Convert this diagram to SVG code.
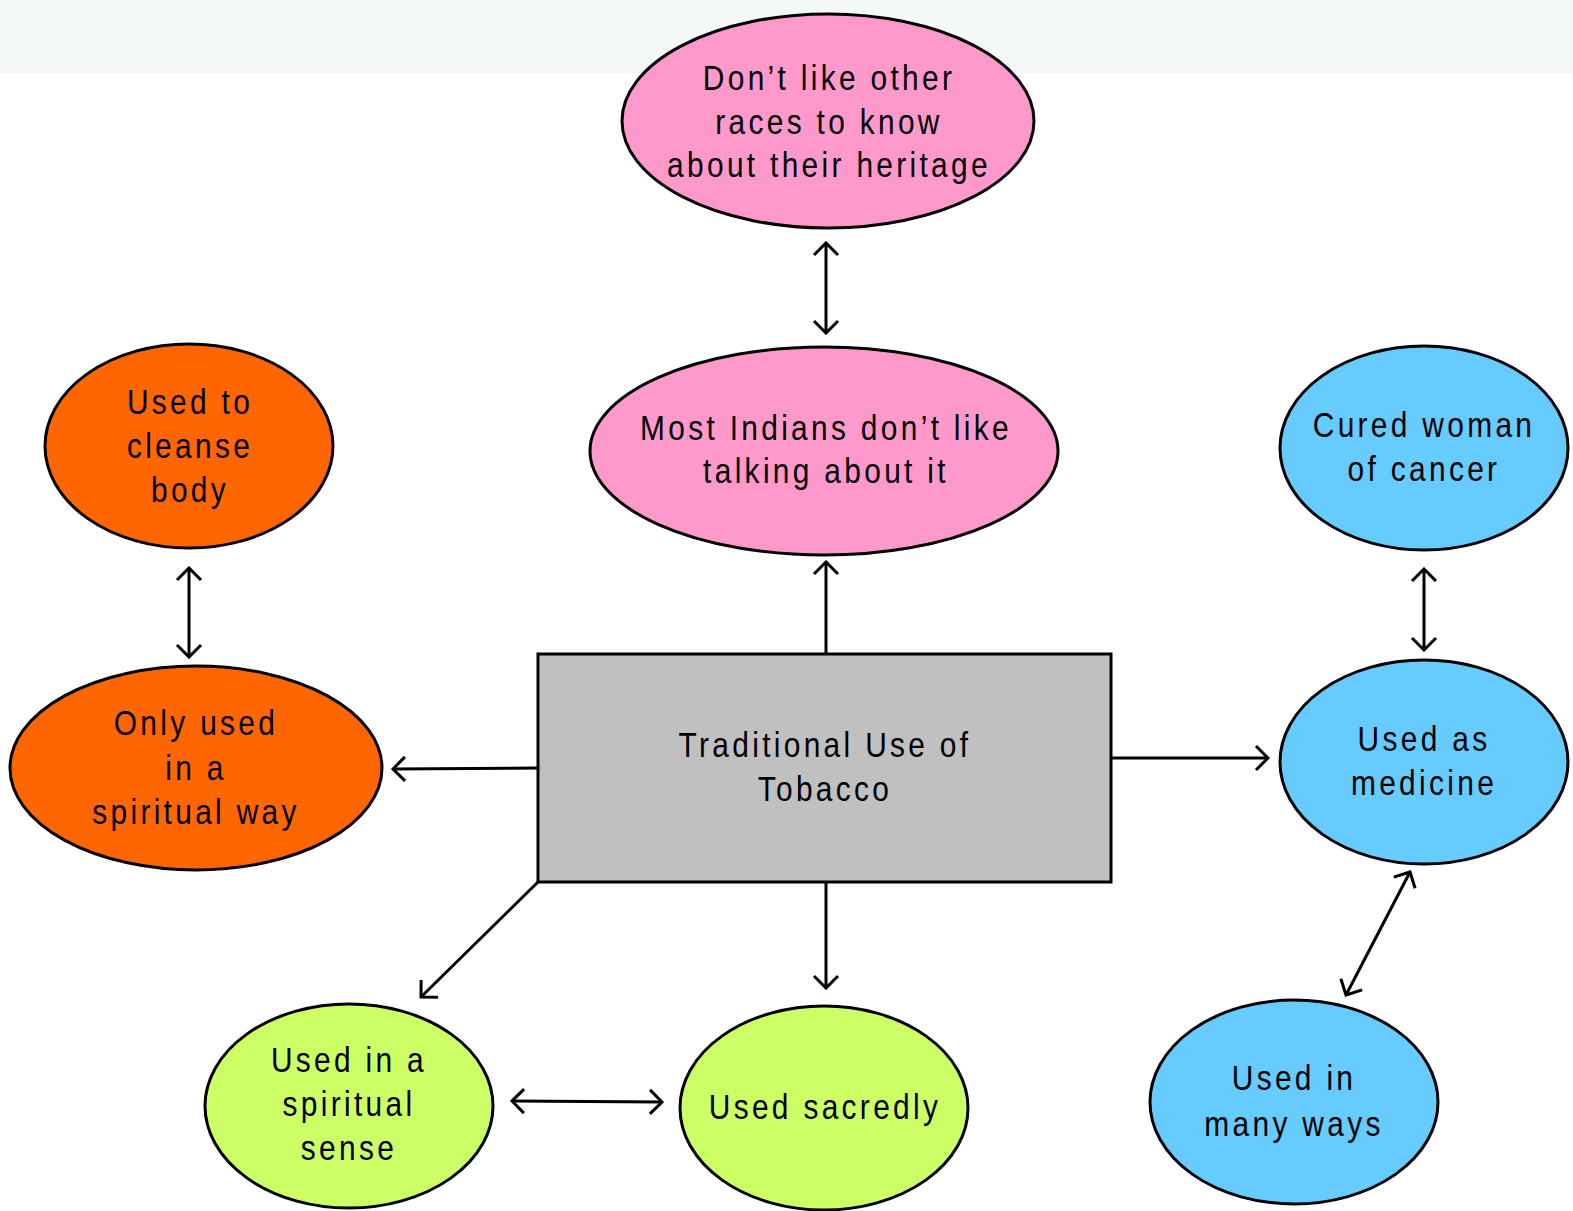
<svg xmlns="http://www.w3.org/2000/svg" width="1573" height="1211" viewBox="0 0 1573 1211">
<style>
.n{stroke:#000;stroke-width:3}
.pink{fill:#FF99CC}.orange{fill:#FF6600}.blue{fill:#66CCFF}.green{fill:#CCFF66}.grey{fill:#C0C0C0}
text{font-family:"Liberation Sans",Arial,sans-serif;font-size:36px;letter-spacing:4px;text-anchor:middle;fill:#000}
.c line{stroke:#000;stroke-width:3;fill:none}
</style>
<defs>
<marker id="ah" viewBox="-14 -14 16 28" markerWidth="16" markerHeight="28" refX="0" refY="0" markerUnits="userSpaceOnUse" orient="auto-start-reverse">
<path d="M-12,-12 L0,0 L-12,12" fill="none" stroke="#000" stroke-width="3"/>
</marker>
</defs>
<rect x="0" y="0" width="1573" height="1211" fill="#fff"/>
<rect x="0" y="0" width="1573" height="73" fill="#F4F8F7"/>
<g id="n-heritage"><ellipse class="n pink" cx="828" cy="121" rx="206" ry="107"/>
<g transform="translate(829,1) scale(0.83,1)"><text x="0" y="89">Don’t like other</text><text x="0" y="133">races to know</text><text x="0" y="176">about their heritage</text></g></g>
<g id="n-indians"><ellipse class="n pink" cx="824" cy="451" rx="234" ry="104"/>
<g transform="translate(826,1) scale(0.83,1)"><text x="0" y="439">Most Indians don’t like</text><text x="0" y="482">talking about it</text></g></g>
<g id="n-cleanse"><ellipse class="n orange" cx="189" cy="446" rx="144" ry="102"/>
<g transform="translate(190,1) scale(0.83,1)"><text x="0" y="413">Used to</text><text x="0" y="457">cleanse</text><text x="0" y="501">body</text></g></g>
<g id="n-onlyspiritual"><ellipse class="n orange" cx="196" cy="768" rx="186" ry="102"/>
<g transform="translate(196,1) scale(0.83,1)"><text x="0" y="734">Only used</text><text x="0" y="779">in a</text><text x="0" y="823">spiritual way</text></g></g>
<g id="n-center"><rect class="n grey" x="538" y="654" width="573" height="228"/>
<g transform="translate(825,1) scale(0.83,1)"><text x="0" y="756">Traditional Use of</text><text x="0" y="800">Tobacco</text></g></g>
<g id="n-cured"><ellipse class="n blue" cx="1424" cy="448" rx="144" ry="102"/>
<g transform="translate(1424,1) scale(0.83,1)"><text x="0" y="436">Cured woman</text><text x="0" y="480">of cancer</text></g></g>
<g id="n-medicine"><ellipse class="n blue" cx="1424" cy="762" rx="144" ry="102"/>
<g transform="translate(1424,1) scale(0.83,1)"><text x="0" y="750">Used as</text><text x="0" y="794">medicine</text></g></g>
<g id="n-manyways"><ellipse class="n blue" cx="1294" cy="1102" rx="144" ry="102"/>
<g transform="translate(1294,1) scale(0.83,1)"><text x="0" y="1089">Used in</text><text x="0" y="1135">many ways</text></g></g>
<g id="n-spiritualsense"><ellipse class="n green" cx="349" cy="1106" rx="144" ry="102"/>
<g transform="translate(349,1) scale(0.83,1)"><text x="0" y="1071">Used in a</text><text x="0" y="1115">spiritual</text><text x="0" y="1159">sense</text></g></g>
<g id="n-sacredly"><ellipse class="n green" cx="824" cy="1108" rx="144" ry="102"/>
<g transform="translate(825,1) scale(0.83,1)"><text x="0" y="1118">Used sacredly</text></g></g>
<g id="connectors" class="c">
<line x1="826" y1="243" x2="826" y2="333" marker-start="url(#ah)" marker-end="url(#ah)"/>
<line x1="826" y1="654" x2="826" y2="562" marker-end="url(#ah)"/>
<line x1="538" y1="768" x2="393" y2="769" marker-end="url(#ah)"/>
<line x1="1111" y1="758" x2="1268" y2="758" marker-end="url(#ah)"/>
<line x1="826" y1="882" x2="826" y2="988" marker-end="url(#ah)"/>
<line x1="538" y1="882" x2="421" y2="997" marker-end="url(#ah)"/>
<line x1="512" y1="1101" x2="662" y2="1102" marker-start="url(#ah)" marker-end="url(#ah)"/>
<line x1="1410" y1="872" x2="1346" y2="995" marker-start="url(#ah)" marker-end="url(#ah)"/>
<line x1="189" y1="568" x2="189" y2="657" marker-start="url(#ah)" marker-end="url(#ah)"/>
<line x1="1424" y1="569" x2="1424" y2="650" marker-start="url(#ah)" marker-end="url(#ah)"/>
</g>
</svg>
